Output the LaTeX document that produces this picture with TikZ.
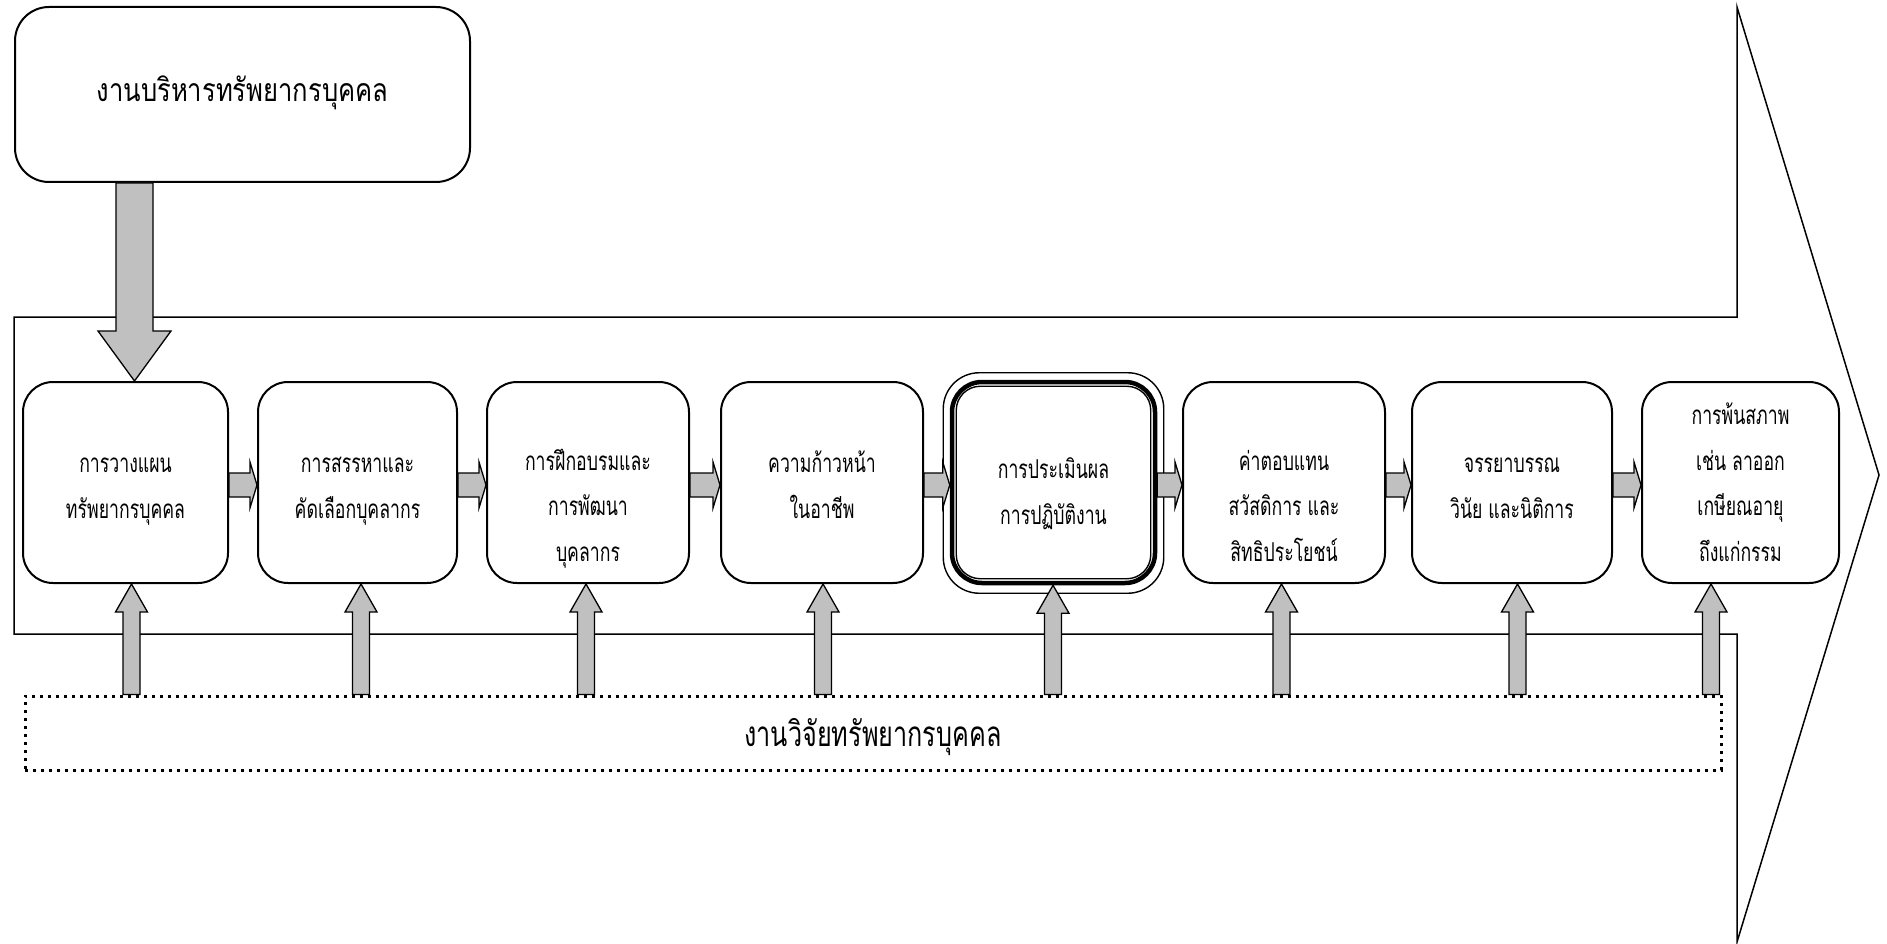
\documentclass[tikz,border=0pt]{standalone}
\usepackage{fontspec}
\newfontfamily\thai[Script=Thai,FakeStretch=0.68]{Loma}
\newfontfamily\thaibig[Script=Thai,FakeStretch=0.8]{Loma}
\newfontfamily\thairesearch[Script=Thai,FakeStretch=0.72]{Loma}
\usetikzlibrary{calc}
\definecolor{arrgray}{HTML}{C0C0C0}
\tikzset{
  stage/.style={draw, line width=2pt, rounded corners=30pt, minimum height=201pt, inner sep=0pt, fill=white},
  stagetext/.style={align=center, font=\thai\fontsize{26}{45.5}\selectfont, inner sep=0pt, anchor=base},
  bigtext/.style={font=\thaibig\fontsize{32}{40}\selectfont, inner sep=0pt, anchor=base},
  restextstyle/.style={font=\thairesearch\fontsize{35}{40}\selectfont, inner sep=0pt, anchor=base},
  blk/.style={draw, line width=1.3pt, fill=arrgray, line join=miter},
  outline/.style={draw, line width=1.5pt, line join=miter},
  thinrim/.style={draw, line width=1.4pt},
  research/.style={draw, line width=3pt, dash pattern=on 3.3pt off 4.7pt, minimum width=1696pt, minimum height=74pt, inner sep=0pt},
}
\newcommand\blkup[3]{%
  \draw[blk] let \p1=(#2.south), \p2=(#3.north) in
   ({#1pt-8.5pt},\y2) -- ({#1pt-8.5pt},{\y1-28pt}) -- ({#1pt-16pt},{\y1-28pt}) -- ({#1pt},\y1)
   -- ({#1pt+16pt},{\y1-28pt}) -- ({#1pt+8.5pt},{\y1-28pt}) -- ({#1pt+8.5pt},\y2) -- cycle;}
\newcommand\blkright[2]{%
  \draw[blk] let \p1=(#1.east), \p2=(#2.west) in
   (\x1,-473pt) -- ({\x2-7pt},-473pt) -- ({\x2-7pt},-462pt) -- (\x2,-485pt)
   -- ({\x2-7pt},-508pt) -- ({\x2-7pt},-497pt) -- (\x1,-497pt) -- cycle;}
\begin{document}
\begin{tikzpicture}[x=1pt,y=-1pt]
\useasboundingbox (0,0) rectangle (1887,944);
% big background arrow
\draw[outline] (14,317) -- (1737,317) -- (1737,7) -- (1879,475) -- (1737,942) -- (1737,634) -- (14,634) -- cycle;
% top box
\node[draw, line width=2pt, rounded corners=34pt, minimum width=455pt, minimum height=175pt, fill=white] (top) at (242.5,94.5) {};
\node[bigtext] (toptext) at (242.5,102) {งานบริหารทรัพยากรบุคคล};
% stage boxes
\node[stage, minimum width=205pt] (b1) at (125.5,482.5) {};
\node[stage, minimum width=199pt] (b2) at (357.5,482.5) {};
\node[stage, minimum width=202pt] (b3) at (588,482.5) {};
\node[stage, minimum width=202pt] (b4) at (822,482.5) {};
\node[stage, minimum width=203pt, line width=4.5pt] (b5) at (1053.5,482.5) {};
\node[stage, minimum width=202pt] (b6) at (1284,482.5) {};
\node[stage, minimum width=200pt] (b7) at (1512,482.5) {};
\node[stage, minimum width=197pt] (b8) at (1740.5,482.5) {};
\draw[thinrim, rounded corners=36pt] ([shift={(-6.5,-7)}]b5.north west) rectangle ([shift={(6.5,8)}]b5.south east);
\draw[thinrim, rounded corners=24pt] ([shift={(6.5,6.5)}]b5.north west) rectangle ([shift={(-6.5,-6.5)}]b5.south east);
% stage texts (anchor base = last line)
\node[stagetext] (t1) at (125.5,518) {การวางแผน\\ทรัพยากรบุคคล};
\node[stagetext] (t2) at (357.5,518) {การสรรหาและ\\คัดเลือกบุคลากร};
\node[stagetext] (t3) at (588,561) {การฝึกอบรมและ\\การพัฒนา\\บุคลากร};
\node[stagetext] (t4) at (822,518) {ความก้าวหน้า\\ในอาชีพ};
\node[stagetext] (t5) at (1053.5,524) {การประเมินผล\\การปฏิบัติงาน};
\node[stagetext] (t6) at (1284,561) {ค่าตอบแทน\\สวัสดิการ และ\\สิทธิประโยชน์};
\node[stagetext] (t7) at (1512,518) {จรรยาบรรณ\\วินัย และนิติการ};
\node[stagetext] (t8) at (1740.5,561) {การพ้นสภาพ\\เช่น ลาออก\\เกษียณอายุ\\ถึงแก่กรรม};
% down arrow from top box
\draw[blk] let \p1=(top.south), \p2=(b1.north) in
 (116pt,\y1) -- (116pt,{\y2+50pt}) -- (98pt,{\y2+50pt}) -- (134.5pt,\y2) -- (171pt,{\y2+50pt}) -- (153pt,{\y2+50pt}) -- (153pt,\y1) -- cycle;
% horizontal arrows
\blkright{b1}{b2}
\blkright{b2}{b3}
\blkright{b3}{b4}
\blkright{b4}{b5}
\blkright{b5}{b6}
\blkright{b6}{b7}
\blkright{b7}{b8}
% research box
\node[research] (res) at (873,733) {};
\node[restextstyle] (restext) at (873,746) {งานวิจัยทรัพยากรบุคคล};
% up arrows
\blkup{131.5}{b1}{res}
\blkup{361}{b2}{res}
\blkup{586}{b3}{res}
\blkup{823}{b4}{res}
\blkup{1053}{b5}{res}
\blkup{1281.5}{b6}{res}
\blkup{1517.5}{b7}{res}
\blkup{1711}{b8}{res}
\end{tikzpicture}
\end{document}
